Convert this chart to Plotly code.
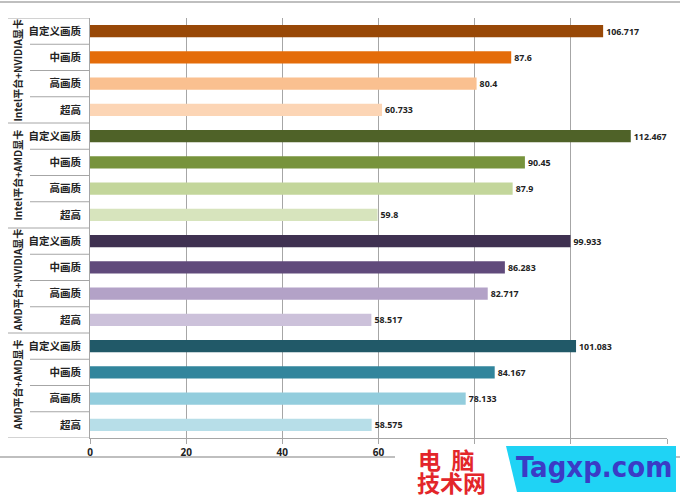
import plotly.graph_objects as go

groups = ["Intel平台+NVIDIA显卡", "Intel平台+AMD显卡", "AMD平台+NVIDIA显卡", "AMD平台+AMD显卡"]
qualities = ["自定义画质", "中画质", "高画质", "超高"]

intel_nvidia = [106.717, 87.6, 80.4, 60.733]
intel_amd = [112.467, 90.45, 87.9, 59.8]
amd_nvidia = [99.933, 86.283, 82.717, 58.517]
amd_amd = [101.083, 84.167, 78.133, 58.575]

colors = [
    ["#984807", "#E46C0A", "#FAC090", "#FCD5B5"],
    ["#4F6228", "#77933C", "#C3D69B", "#D7E4BD"],
    ["#3F3151", "#604A7B", "#B3A2C7", "#CCC1DA"],
    ["#215968", "#31859C", "#93CDDD", "#B7DEE8"],
]

series = [intel_nvidia, intel_amd, amd_nvidia, amd_amd]

values, ypos, labels, cols = [], [], [], []
for gi, vals in enumerate(series):
    for qi, v in enumerate(vals):
        values.append(v)
        ypos.append(gi * 4 + qi)
        labels.append(qualities[qi])
        cols.append(colors[gi][qi])

texts = [f"{v:g}" for v in values]

fig = go.Figure()
fig.add_trace(go.Bar(
    x=values, y=ypos, orientation="h",
    marker=dict(color=cols, line=dict(width=0)),
    width=0.46,
    text=texts, textposition="outside",
    textfont=dict(family="Open Sans, Noto Sans", size=11, color="#222222", weight="bold"),
    cliponaxis=False,
    showlegend=False,
    hoverinfo="skip",
))

fig.update_layout(
    width=680, height=500,
    margin=dict(l=90, r=13, t=18, b=62),
    paper_bgcolor="white", plot_bgcolor="white",
    font=dict(family="Noto Sans CJK SC", color="#222222"),
)
fig.update_xaxes(
    range=[0, 120], dtick=20, showgrid=True, gridcolor="#A6A6A6", gridwidth=1,
    zeroline=False, showline=True, linecolor="#A6A6A6", linewidth=1,
    ticks="outside", ticklen=5, tickcolor="#A6A6A6", automargin=False,
    tickfont=dict(family="Open Sans, Noto Sans", size=10, color="#222222", weight="bold"),
)
fig.update_yaxes(
    range=[15.5, -0.5], tickvals=ypos, ticktext=labels,
    showgrid=False, zeroline=False, showline=True, linecolor="#A6A6A6", linewidth=1,
    ticks="", ticklabelstandoff=6, automargin=False,
    tickfont=dict(family="Noto Sans CJK SC", size=10.5, color="#222222", weight="bold"),
)

shapes = []
pw = 577.0
def px2x(px):
    return (px - 90) / pw
def py2y(py):
    return (438 - py) / 420.0

# row separators in the label area
for gi in range(4):
    for qi in range(1, 4):
        yb = gi * 4 + qi - 0.5
        shapes.append(dict(type="line", xref="paper", yref="y", x0=px2x(30), x1=0,
                           y0=yb, y1=yb, line=dict(color="#A6A6A6", width=1)))
for gb in range(5):
    yb = gb * 4 - 0.5
    shapes.append(dict(type="line", xref="paper", yref="y", x0=px2x(8), x1=0,
                       y0=yb, y1=yb, line=dict(color="#A6A6A6", width=1)))

# outer frame lines
shapes.append(dict(type="line", xref="paper", yref="paper", x0=px2x(0), x1=px2x(680),
                   y0=py2y(2), y1=py2y(2), line=dict(color="#BFBFBF", width=2)))
shapes.append(dict(type="line", xref="paper", yref="paper", x0=px2x(0), x1=px2x(680),
                   y0=py2y(457), y1=py2y(457), line=dict(color="#BFBFBF", width=2)))

# watermark
shapes.append(dict(type="rect", xref="paper", yref="paper", x0=px2x(395), x1=px2x(510),
                   y0=py2y(444), y1=py2y(500), fillcolor="white", line=dict(width=0), layer="above"))
shapes.append(dict(type="path", xref="paper", yref="paper",
                   path=f"M {px2x(506)},{py2y(446)} L {px2x(676)},{py2y(446)} L {px2x(676)},{py2y(492)} L {px2x(517)},{py2y(492)} Z",
                   fillcolor="#1FD3F5", line=dict(width=0), layer="above"))

annotations = []
for gi, g in enumerate(groups):
    annotations.append(dict(text=g, xref="paper", yref="y", x=px2x(17), y=gi * 4 + 1.5,
                            textangle=-90, showarrow=False, xanchor="center", yanchor="middle",
                            font=dict(family="Noto Sans CJK SC", size=10, color="#222222", weight="bold")))

annotations.append(dict(text="电  脑", xref="paper", yref="paper", x=px2x(446), y=py2y(459),
                        showarrow=False, xanchor="center", yanchor="middle",
                        font=dict(family="Noto Sans CJK SC", size=23, color="#E3262A", weight="bold")))
annotations.append(dict(text="技术网", xref="paper", yref="paper", x=px2x(451), y=py2y(482),
                        showarrow=False, xanchor="center", yanchor="middle",
                        font=dict(family="Noto Sans CJK SC", size=23, color="#E3262A", weight="bold")))
annotations.append(dict(text="Tagxp.com", xref="paper", yref="paper", x=px2x(594), y=py2y(467),
                        showarrow=False, xanchor="center", yanchor="middle",
                        font=dict(family="DejaVu Sans Condensed, DejaVu Sans", size=29, color="#3B3BC6", weight="bold")))

fig.update_layout(shapes=shapes, annotations=annotations)
fig.write_html("out.html", config={"displayModeBar": False},
               post_script="document.body.style.margin='0';")
